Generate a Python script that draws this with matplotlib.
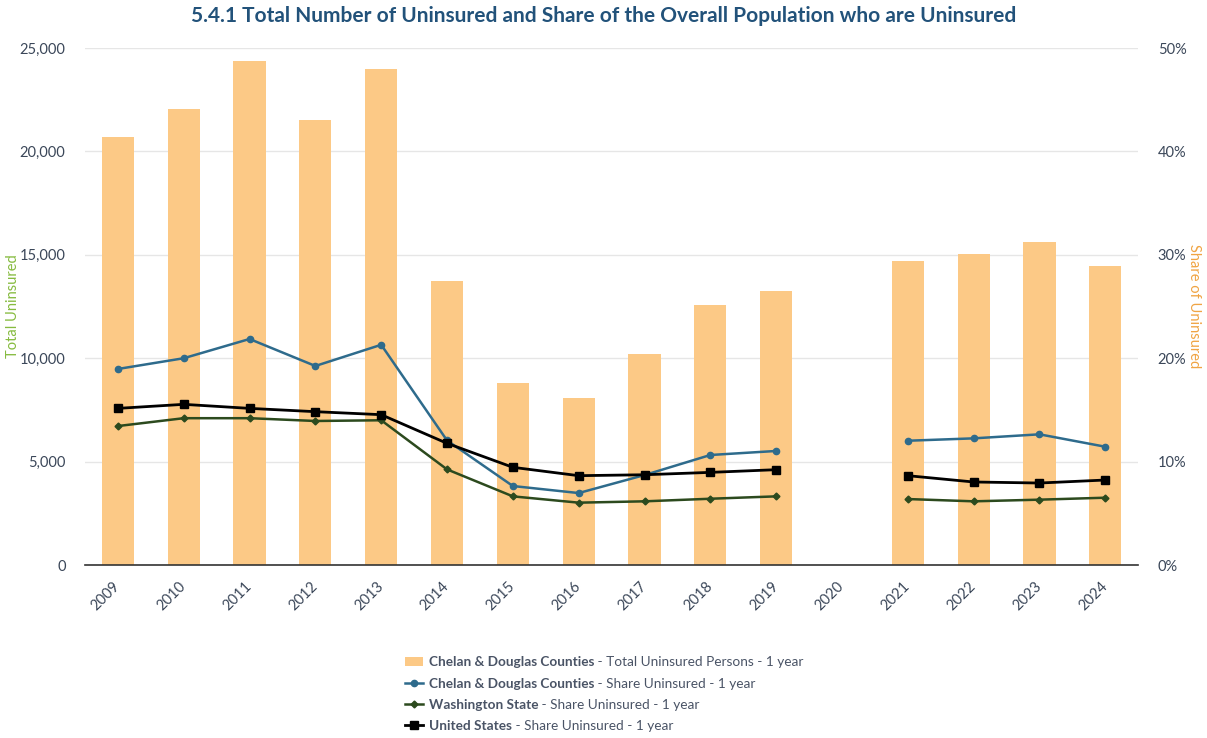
import matplotlib
matplotlib.use("Agg")
import matplotlib.pyplot as plt
import numpy as np
from matplotlib.ticker import FuncFormatter

plt.rcParams['font.family'] = ['Lato', 'DejaVu Sans']

years = ['2009', '2010', '2011', '2012', '2013', '2014', '2015', '2016',
         '2017', '2018', '2019', '2020', '2021', '2022', '2023', '2024']
# total uninsured persons, Chelan & Douglas (2020 missing)
total_uninsured = [20700, 22050, 24370, 21500, 23980, 13730, 8800, 8070,
                   10200, 12570, 13250, np.nan, 14700, 15040, 15620, 14460]
# share uninsured, percent
share_chelan = [18.96, 20.0, 21.86, 19.25, 21.3, 12.05, 7.64, 6.96,
                8.7, 10.64, 11.03, np.nan, 12.02, 12.25, 12.64, 11.44]
share_wa = [13.44, 14.2, 14.2, 13.93, 14.0, 9.25, 6.64, 6.03,
            6.16, 6.41, 6.64, np.nan, 6.38, 6.16, 6.32, 6.51]
share_us = [15.15, 15.54, 15.15, 14.83, 14.54, 11.77, 9.45, 8.64,
            8.73, 8.96, 9.22, np.nan, 8.64, 8.03, 7.93, 8.22]

legend_bold = ['Chelan & Douglas Counties', 'Chelan & Douglas Counties',
               'Washington State', 'United States']
legend_rest = [' - Total Uninsured Persons - 1 year', ' - Share Uninsured - 1 year',
               ' - Share Uninsured - 1 year', ' - Share Uninsured - 1 year']

tick_col = '#3b4759'
x = np.arange(len(years))

fig = plt.figure(figsize=(12.07, 7.38), dpi=100)
ax = fig.add_axes([0.0704, 0.2344, 0.8726, 0.7005])
ax2 = ax.twinx()

bars = ax.bar(x, total_uninsured, width=0.49, color='#fcc986', zorder=2)
ax.set_xlim(-0.5, len(years) - 0.5)
ax.set_ylim(0, 25000)
ax.set_yticks(np.arange(0, 25001, 5000))
ax.yaxis.set_major_formatter(FuncFormatter(lambda v, p: f'{int(v):,}'))
ax.grid(axis='y', color='#e6e6e6', linewidth=1)
ax.set_axisbelow(True)

l1, = ax2.plot(x, share_chelan, color='#2e6b8c', lw=1.8, marker='o', ms=4.5)
l2, = ax2.plot(x, share_wa, color='#2c4a1e', lw=1.8, marker='D', ms=3.5)
l3, = ax2.plot(x, share_us, color='#000000', lw=2.0, marker='s', ms=5.5)
ax2.set_ylim(0, 50)
ax2.set_yticks(np.arange(0, 51, 10))
ax2.yaxis.set_major_formatter(FuncFormatter(lambda v, p: f'{int(v)}%'))

for a in (ax, ax2):
    for s in a.spines.values():
        s.set_visible(False)
    a.tick_params(length=0, labelsize=10.5, labelcolor=tick_col)
ax.spines['bottom'].set_visible(True)
ax.spines['bottom'].set_color('#333333')
ax.spines['bottom'].set_linewidth(1.2)
ax.tick_params(axis='y', pad=14)
ax2.tick_params(axis='y', pad=14)

ax.set_xticks(x)
ax.set_xticklabels(years, rotation=45, ha='right', va='center',
                   rotation_mode='anchor')
ax.tick_params(axis='x', pad=14)

fig.text(13 / 1207, 1 - 306 / 738, 'Total Uninsured', color='#86bb3f',
         fontsize=10.5, rotation=90, ha='center', va='center')
fig.text(1194 / 1207, 1 - 306 / 738, 'Share of Uninsured', color='#f0a443',
         fontsize=10.5, rotation=270, ha='center', va='center')

fig.text(0.5, 0.978, '5.4.1 Total Number of Uninsured and Share of the Overall Population who are Uninsured',
         ha='center', va='center', fontsize=15, fontweight='bold', color='#22527a')

handles = [bars, l1, l2, l3]
leg = fig.legend(handles, legend_bold, loc='upper left',
                 bbox_to_anchor=(0.331, 0.118), frameon=False, fontsize=9.8,
                 handlelength=1.3, handletextpad=0.45, labelspacing=0.68,
                 borderaxespad=0)
for t in leg.get_texts():
    t.set_fontweight('bold')
    t.set_color('#4a5466')

fig.canvas.draw()
for t, rest in zip(leg.get_texts(), legend_rest):
    fig.add_artist(plt.Annotation(rest, xy=(1, 0), xycoords=t, ha='left',
                                  va='bottom', fontsize=9.8, color='#4a5466'))

fig.savefig('out.png', dpi=100)
